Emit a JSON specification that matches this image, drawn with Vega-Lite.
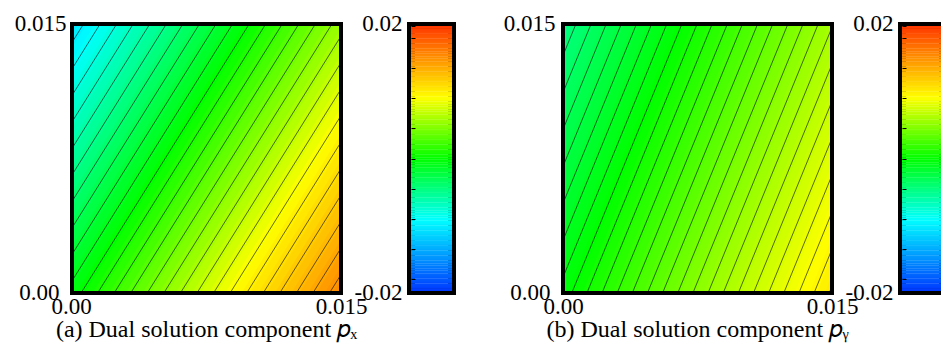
{
  "$schema": "https://vega.github.io/schema/vega-lite/v6.json",
  "autosize": {"type": "pad"},
  "padding": {"left": 10, "top": 8, "right": 0, "bottom": 0},
  "background": "white",
  "config": {
    "font": "Liberation Serif",
    "view": {"stroke": "black", "strokeWidth": 8},
    "axis": {"labelFont": "Liberation Serif", "labelFontSize": 23, "labelColor": "black", "ticks": false, "domain": false, "grid": false, "labelFlush": false, "labelOverlap": false},
    "title": {"font": "Liberation Serif", "fontSize": 24, "fontWeight": "normal", "color": "black"}
  },
  "datasets": {
    "fa": [
      {"v":-0.0105,"x":-0.010313,"x2":0.000938},{"v":-0.0100,"x":-0.009844,"x2":0.001406},{"v":-0.0095,"x":-0.009375,"x2":0.001875},{"v":-0.0090,"x":-0.008906,"x2":0.002344},
      {"v":-0.0085,"x":-0.008438,"x2":0.002813},{"v":-0.0080,"x":-0.007969,"x2":0.003281},{"v":-0.0075,"x":-0.007500,"x2":0.003750},{"v":-0.0070,"x":-0.007031,"x2":0.004219},
      {"v":-0.0065,"x":-0.006563,"x2":0.004688},{"v":-0.0060,"x":-0.006094,"x2":0.005156},{"v":-0.0055,"x":-0.005625,"x2":0.005625},{"v":-0.0050,"x":-0.005156,"x2":0.006094},
      {"v":-0.0045,"x":-0.004688,"x2":0.006563},{"v":-0.0040,"x":-0.004219,"x2":0.007031},{"v":-0.0035,"x":-0.003750,"x2":0.007500},{"v":-0.0030,"x":-0.003281,"x2":0.007969},
      {"v":-0.0025,"x":-0.002813,"x2":0.008438},{"v":-0.0020,"x":-0.002344,"x2":0.008906},{"v":-0.0015,"x":-0.001875,"x2":0.009375},{"v":-0.0010,"x":-0.001406,"x2":0.009844},
      {"v":-0.0005,"x":-0.000938,"x2":0.010313},{"v":0.0000,"x":-0.000469,"x2":0.010781},{"v":0.0005,"x":0.000000,"x2":0.011250},{"v":0.0010,"x":0.000469,"x2":0.011719},
      {"v":0.0015,"x":0.000938,"x2":0.012188},{"v":0.0020,"x":0.001406,"x2":0.012656},{"v":0.0025,"x":0.001875,"x2":0.013125},{"v":0.0030,"x":0.002344,"x2":0.013594},
      {"v":0.0035,"x":0.002813,"x2":0.014063},{"v":0.0040,"x":0.003281,"x2":0.014531},{"v":0.0045,"x":0.003750,"x2":0.015000},{"v":0.0050,"x":0.004219,"x2":0.015469},
      {"v":0.0055,"x":0.004688,"x2":0.015938},{"v":0.0060,"x":0.005156,"x2":0.016406},{"v":0.0065,"x":0.005625,"x2":0.016875},{"v":0.0070,"x":0.006094,"x2":0.017344},
      {"v":0.0075,"x":0.006563,"x2":0.017813},{"v":0.0080,"x":0.007031,"x2":0.018281},{"v":0.0085,"x":0.007500,"x2":0.018750},{"v":0.0090,"x":0.007969,"x2":0.019219},
      {"v":0.0095,"x":0.008438,"x2":0.019688},{"v":0.0100,"x":0.008906,"x2":0.020156},{"v":0.0105,"x":0.009375,"x2":0.020625},{"v":0.0110,"x":0.009844,"x2":0.021094},
      {"v":0.0115,"x":0.010313,"x2":0.021563},{"v":0.0120,"x":0.010781,"x2":0.022031},{"v":0.0125,"x":0.011250,"x2":0.022500},{"v":0.0130,"x":0.011719,"x2":0.022969},
      {"v":0.0135,"x":0.012188,"x2":0.023438},{"v":0.0140,"x":0.012656,"x2":0.023906},{"v":0.0145,"x":0.013125,"x2":0.024375},{"v":0.0150,"x":0.013594,"x2":0.024844},
      {"v":0.0155,"x":0.014063,"x2":0.025313}
    ],
    "ca": [
      {"x":-0.008906,"x2":0.000469},{"x":-0.007969,"x2":0.001406},{"x":-0.007031,"x2":0.002344},{"x":-0.006094,"x2":0.003281},{"x":-0.005156,"x2":0.004219},
      {"x":-0.004219,"x2":0.005156},{"x":-0.003281,"x2":0.006094},{"x":-0.002344,"x2":0.007031},{"x":-0.001406,"x2":0.007969},{"x":-0.000469,"x2":0.008906},
      {"x":0.000469,"x2":0.009844},{"x":0.001406,"x2":0.010781},{"x":0.002344,"x2":0.011719},{"x":0.003281,"x2":0.012656},{"x":0.004219,"x2":0.013594},
      {"x":0.005156,"x2":0.014531},{"x":0.006094,"x2":0.015469},{"x":0.007031,"x2":0.016406},{"x":0.007969,"x2":0.017344},{"x":0.008906,"x2":0.018281},
      {"x":0.009844,"x2":0.019219},{"x":0.010781,"x2":0.020156},{"x":0.011719,"x2":0.021094},{"x":0.012656,"x2":0.022031},{"x":0.013594,"x2":0.022969},
      {"x":0.014531,"x2":0.023906}
    ],
    "fb": [
      {"v":-0.0048,"x":-0.007043,"x2":0.000329},{"v":-0.0045,"x":-0.006614,"x2":0.000757},{"v":-0.0042,"x":-0.006186,"x2":0.001186},{"v":-0.0039,"x":-0.005757,"x2":0.001614},
      {"v":-0.0036,"x":-0.005329,"x2":0.002043},{"v":-0.0033,"x":-0.004900,"x2":0.002471},{"v":-0.0030,"x":-0.004471,"x2":0.002900},{"v":-0.0027,"x":-0.004043,"x2":0.003329},
      {"v":-0.0024,"x":-0.003614,"x2":0.003757},{"v":-0.0021,"x":-0.003186,"x2":0.004186},{"v":-0.0018,"x":-0.002757,"x2":0.004614},{"v":-0.0015,"x":-0.002329,"x2":0.005043},
      {"v":-0.0012,"x":-0.001900,"x2":0.005471},{"v":-0.0009,"x":-0.001471,"x2":0.005900},{"v":-0.0006,"x":-0.001043,"x2":0.006329},{"v":-0.0003,"x":-0.000614,"x2":0.006757},
      {"v":0.0000,"x":-0.000186,"x2":0.007186},{"v":0.0003,"x":0.000243,"x2":0.007614},{"v":0.0006,"x":0.000671,"x2":0.008043},{"v":0.0009,"x":0.001100,"x2":0.008471},
      {"v":0.0012,"x":0.001529,"x2":0.008900},{"v":0.0015,"x":0.001957,"x2":0.009329},{"v":0.0018,"x":0.002386,"x2":0.009757},{"v":0.0021,"x":0.002814,"x2":0.010186},
      {"v":0.0024,"x":0.003243,"x2":0.010614},{"v":0.0027,"x":0.003671,"x2":0.011043},{"v":0.0030,"x":0.004100,"x2":0.011471},{"v":0.0033,"x":0.004529,"x2":0.011900},
      {"v":0.0036,"x":0.004957,"x2":0.012329},{"v":0.0039,"x":0.005386,"x2":0.012757},{"v":0.0042,"x":0.005814,"x2":0.013186},{"v":0.0045,"x":0.006243,"x2":0.013614},
      {"v":0.0048,"x":0.006671,"x2":0.014043},{"v":0.0051,"x":0.007100,"x2":0.014471},{"v":0.0054,"x":0.007529,"x2":0.014900},{"v":0.0057,"x":0.007957,"x2":0.015329},
      {"v":0.0060,"x":0.008386,"x2":0.015757},{"v":0.0063,"x":0.008814,"x2":0.016186},{"v":0.0066,"x":0.009243,"x2":0.016614},{"v":0.0069,"x":0.009671,"x2":0.017043},
      {"v":0.0072,"x":0.010100,"x2":0.017471},{"v":0.0075,"x":0.010529,"x2":0.017900},{"v":0.0078,"x":0.010957,"x2":0.018329},{"v":0.0081,"x":0.011386,"x2":0.018757},
      {"v":0.0084,"x":0.011814,"x2":0.019186},{"v":0.0087,"x":0.012243,"x2":0.019614},{"v":0.0090,"x":0.012671,"x2":0.020043},{"v":0.0093,"x":0.013100,"x2":0.020471},
      {"v":0.0096,"x":0.013529,"x2":0.020900},{"v":0.0099,"x":0.013957,"x2":0.021329},{"v":0.0102,"x":0.014386,"x2":0.021757},{"v":0.0105,"x":0.014814,"x2":0.022186}
    ],
    "cb": [
      {"x":-0.005571,"x2":0.000571},{"x":-0.004714,"x2":0.001429},{"x":-0.003857,"x2":0.002286},{"x":-0.003000,"x2":0.003143},{"x":-0.002143,"x2":0.004000},
      {"x":-0.001286,"x2":0.004857},{"x":-0.000429,"x2":0.005714},{"x":0.000429,"x2":0.006571},{"x":0.001286,"x2":0.007429},{"x":0.002143,"x2":0.008286},
      {"x":0.003000,"x2":0.009143},{"x":0.003857,"x2":0.010000},{"x":0.004714,"x2":0.010857},{"x":0.005571,"x2":0.011714},{"x":0.006429,"x2":0.012571},
      {"x":0.007286,"x2":0.013429},{"x":0.008143,"x2":0.014286},{"x":0.009000,"x2":0.015143},{"x":0.009857,"x2":0.016000},{"x":0.010714,"x2":0.016857},
      {"x":0.011571,"x2":0.017714},{"x":0.012429,"x2":0.018571},{"x":0.013286,"x2":0.019429},{"x":0.014143,"x2":0.020286},{"x":0.015000,"x2":0.021143}
    ],
    "bar": [
      {"v":-0.02},{"v":-0.01975},{"v":-0.0195},{"v":-0.01925},{"v":-0.019},{"v":-0.01875},{"v":-0.0185},{"v":-0.01825},{"v":-0.018},{"v":-0.01775},
      {"v":-0.0175},{"v":-0.01725},{"v":-0.017},{"v":-0.01675},{"v":-0.0165},{"v":-0.01625},{"v":-0.016},{"v":-0.01575},{"v":-0.0155},{"v":-0.01525},
      {"v":-0.015},{"v":-0.01475},{"v":-0.0145},{"v":-0.01425},{"v":-0.014},{"v":-0.01375},{"v":-0.0135},{"v":-0.01325},{"v":-0.013},{"v":-0.01275},
      {"v":-0.0125},{"v":-0.01225},{"v":-0.012},{"v":-0.01175},{"v":-0.0115},{"v":-0.01125},{"v":-0.011},{"v":-0.01075},{"v":-0.0105},{"v":-0.01025},
      {"v":-0.01},{"v":-0.00975},{"v":-0.0095},{"v":-0.00925},{"v":-0.009},{"v":-0.00875},{"v":-0.0085},{"v":-0.00825},{"v":-0.008},{"v":-0.00775},
      {"v":-0.0075},{"v":-0.00725},{"v":-0.007},{"v":-0.00675},{"v":-0.0065},{"v":-0.00625},{"v":-0.006},{"v":-0.00575},{"v":-0.0055},{"v":-0.00525},
      {"v":-0.005},{"v":-0.00475},{"v":-0.0045},{"v":-0.00425},{"v":-0.004},{"v":-0.00375},{"v":-0.0035},{"v":-0.00325},{"v":-0.003},{"v":-0.00275},
      {"v":-0.0025},{"v":-0.00225},{"v":-0.002},{"v":-0.00175},{"v":-0.0015},{"v":-0.00125},{"v":-0.001},{"v":-0.00075},{"v":-0.0005},{"v":-0.00025},
      {"v":0},
      {"v":0.00025},{"v":0.0005},{"v":0.00075},{"v":0.001},{"v":0.00125},{"v":0.0015},{"v":0.00175},{"v":0.002},{"v":0.00225},{"v":0.0025},
      {"v":0.00275},{"v":0.003},{"v":0.00325},{"v":0.0035},{"v":0.00375},{"v":0.004},{"v":0.00425},{"v":0.0045},{"v":0.00475},{"v":0.005},
      {"v":0.00525},{"v":0.0055},{"v":0.00575},{"v":0.006},{"v":0.00625},{"v":0.0065},{"v":0.00675},{"v":0.007},{"v":0.00725},{"v":0.0075},
      {"v":0.00775},{"v":0.008},{"v":0.00825},{"v":0.0085},{"v":0.00875},{"v":0.009},{"v":0.00925},{"v":0.0095},{"v":0.00975},{"v":0.01},
      {"v":0.01025},{"v":0.0105},{"v":0.01075},{"v":0.011},{"v":0.01125},{"v":0.0115},{"v":0.01175},{"v":0.012},{"v":0.01225},{"v":0.0125},
      {"v":0.01275},{"v":0.013},{"v":0.01325},{"v":0.0135},{"v":0.01375},{"v":0.014},{"v":0.01425},{"v":0.0145},{"v":0.01475},{"v":0.015},
      {"v":0.01525},{"v":0.0155},{"v":0.01575},{"v":0.016},{"v":0.01625},{"v":0.0165},{"v":0.01675},{"v":0.017},{"v":0.01725},{"v":0.0175},
      {"v":0.01775},{"v":0.018},{"v":0.01825},{"v":0.0185},{"v":0.01875},{"v":0.019},{"v":0.01925},{"v":0.0195},{"v":0.01975},{"v":0.02}
    ]
  },
  "spacing": 43,
  "hconcat": [
    {
      "bounds": "flush",
      "spacing": 72,
      "hconcat": [
        {
          "width": 265, "height": 265,
          "title": {"text": "(a) Dual solution component 𝑝ₓ", "orient": "bottom", "anchor": "middle", "offset": 0},
          "layer": [
            {
              "data": {"name": "fa"},
              "mark": {"type": "rule", "strokeWidth": 8.5, "clip": true},
              "encoding": {
                "x": {"field": "x", "type": "quantitative", "scale": {"domain": [0, 0.015], "nice": false, "zero": false},
                  "axis": {"title": null, "values": [0, 0.015], "labelExpr": "datum.value == 0 ? '0.00' : '0.015'", "labelPadding": 4,
                    "labelOffset": {"condition": {"test": "datum.value == 0", "value": -3}, "value": 2}}},
                "x2": {"field": "x2"},
                "y": {"datum": -0.0015, "type": "quantitative", "scale": {"domain": [0, 0.015], "nice": false, "zero": false},
                  "axis": {"title": null, "values": [0, 0.015], "labelExpr": "datum.value == 0 ? '0.00' : '0.015'",
                    "labelPadding": {"condition": {"test": "datum.value == 0", "value": 15}, "value": 8},
                    "labelOffset": {"condition": {"test": "datum.value == 0", "value": 1}, "value": -3}}},
                "y2": {"datum": 0.0165},
                "color": {"field": "v", "type": "quantitative", "legend": null,
                  "scale": {"type": "linear", "domain": [-0.02, -0.0092, 0, 0.0092, 0.02], "range": ["#0038ff", "#00ffff", "#00ff00", "#ffff00", "#ff3800"], "interpolate": "rgb", "clamp": true}}
              }
            },
            {
              "data": {"name": "ca"},
              "mark": {"type": "rule", "strokeWidth": 0.7, "color": "black", "opacity": 0.85, "clip": true},
              "encoding": {
                "x": {"field": "x", "type": "quantitative"},
                "x2": {"field": "x2"},
                "y": {"datum": 0, "type": "quantitative"},
                "y2": {"datum": 0.015}
              }
            }
          ]
        },
        {
          "width": 41, "height": 265,
          "data": {"name": "bar"},
          "mark": {"type": "rule", "strokeWidth": 2, "clip": true},
          "encoding": {
            "y": {"field": "v", "type": "quantitative", "scale": {"domain": [-0.02, 0.02], "nice": false, "zero": false},
              "axis": {"title": null, "values": [-0.02, -0.0182, -0.01365, -0.0091, -0.00455, 0, 0.00455, 0.0091, 0.01365, 0.0182, 0.02],
                "labelExpr": "datum.value >= 0.02 ? '0.02' : (datum.value <= -0.02 ? '-0.02' : '')",
                "ticks": true, "tickSize": -4, "tickColor": "black", "tickWidth": 1, "zindex": 1, "labelPadding": 13,
                "labelOffset": {"condition": {"test": "datum.value > 0", "value": -3}, "value": 1}}},
            "color": {"field": "v", "type": "quantitative", "legend": null,
              "scale": {"type": "linear", "domain": [-0.02, -0.0092, 0, 0.0092, 0.02], "range": ["#0038ff", "#00ffff", "#00ff00", "#ffff00", "#ff3800"], "interpolate": "rgb", "clamp": true}}
          }
        }
      ]
    },
    {
      "bounds": "flush",
      "spacing": 72,
      "hconcat": [
        {
          "width": 265, "height": 265,
          "title": {"text": "(b) Dual solution component 𝑝ᵧ", "orient": "bottom", "anchor": "middle", "offset": 0},
          "layer": [
            {
              "data": {"name": "fb"},
              "mark": {"type": "rule", "strokeWidth": 8.5, "clip": true},
              "encoding": {
                "x": {"field": "x", "type": "quantitative", "scale": {"domain": [0, 0.015], "nice": false, "zero": false},
                  "axis": {"title": null, "values": [0, 0.015], "labelExpr": "datum.value == 0 ? '0.00' : '0.015'", "labelPadding": 4,
                    "labelOffset": {"condition": {"test": "datum.value == 0", "value": -2}, "value": 2}}},
                "x2": {"field": "x2"},
                "y": {"datum": -0.0015, "type": "quantitative", "scale": {"domain": [0, 0.015], "nice": false, "zero": false},
                  "axis": {"title": null, "values": [0, 0.015], "labelExpr": "datum.value == 0 ? '0.00' : '0.015'",
                    "labelPadding": {"condition": {"test": "datum.value == 0", "value": 15}, "value": 10},
                    "labelOffset": {"condition": {"test": "datum.value == 0", "value": 1}, "value": -3}}},
                "y2": {"datum": 0.0165},
                "color": {"field": "v", "type": "quantitative", "legend": null,
                  "scale": {"type": "linear", "domain": [-0.02, -0.0092, 0, 0.0092, 0.02], "range": ["#0038ff", "#00ffff", "#00ff00", "#ffff00", "#ff3800"], "interpolate": "rgb", "clamp": true}}
              }
            },
            {
              "data": {"name": "cb"},
              "mark": {"type": "rule", "strokeWidth": 0.7, "color": "black", "opacity": 0.85, "clip": true},
              "encoding": {
                "x": {"field": "x", "type": "quantitative"},
                "x2": {"field": "x2"},
                "y": {"datum": 0, "type": "quantitative"},
                "y2": {"datum": 0.015}
              }
            }
          ]
        },
        {
          "width": 41, "height": 265,
          "data": {"name": "bar"},
          "mark": {"type": "rule", "strokeWidth": 2, "clip": true},
          "encoding": {
            "y": {"field": "v", "type": "quantitative", "scale": {"domain": [-0.02, 0.02], "nice": false, "zero": false},
              "axis": {"title": null, "values": [-0.02, -0.0182, -0.01365, -0.0091, -0.00455, 0, 0.00455, 0.0091, 0.01365, 0.0182, 0.02],
                "labelExpr": "datum.value >= 0.02 ? '0.02' : (datum.value <= -0.02 ? '-0.02' : '')",
                "ticks": true, "tickSize": -4, "tickColor": "black", "tickWidth": 1, "zindex": 1, "labelPadding": 13,
                "labelOffset": {"condition": {"test": "datum.value > 0", "value": -3}, "value": 1}}},
            "color": {"field": "v", "type": "quantitative", "legend": null,
              "scale": {"type": "linear", "domain": [-0.02, -0.0092, 0, 0.0092, 0.02], "range": ["#0038ff", "#00ffff", "#00ff00", "#ffff00", "#ff3800"], "interpolate": "rgb", "clamp": true}}
          }
        }
      ]
    }
  ]
}
